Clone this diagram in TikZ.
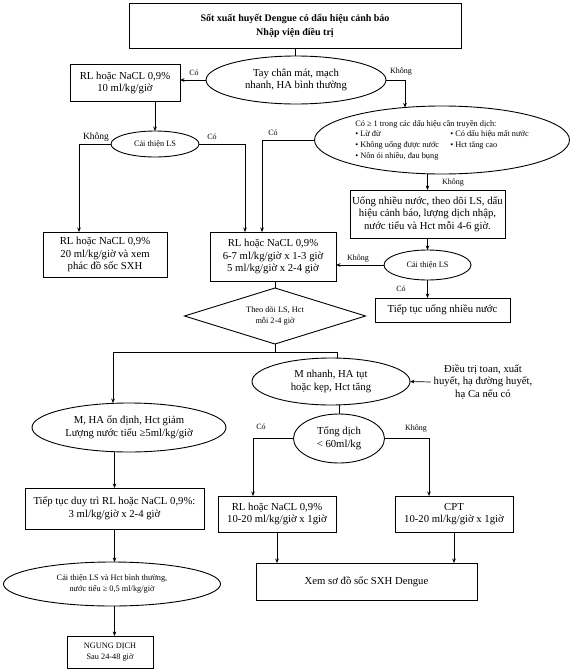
\documentclass[tikz,border=0pt]{standalone}
\usepackage{fontspec}
\setmainfont{Liberation Serif}
\usetikzlibrary{shapes.geometric,arrows.meta}
\begin{document}
\begin{tikzpicture}[x=1pt,y=-1pt,
  every node/.style={inner sep=0pt,outer sep=0pt,align=center},
  mtxt/.style={font=\fontsize{10.7}{12.7}\selectfont},
  stxt/.style={font=\fontsize{8.3}{10.6}\selectfont},
  btxt/.style={font=\bfseries\fontsize{10}{14}\selectfont},
  lbl/.style={font=\fontsize{8}{9}\selectfont},
  lblbig/.style={font=\fontsize{9.5}{11}\selectfont},
  bx/.style={draw,rectangle,line width=0.9pt},
  el/.style={draw,ellipse,line width=0.9pt},
  ln/.style={line width=0.7pt},
  arr/.style={ln,-{Stealth[length=4.5pt,width=3.6pt]}},
]
\useasboundingbox[fill=white] (0,0) rectangle (575,672);

% top row
\node[bx,btxt,minimum width=332,minimum height=45] (top) at (295,25.5) {Sốt xuất huyết Dengue có dấu hiệu cảnh báo\\Nhập viện điều trị};
\node[el,mtxt,minimum width=180,minimum height=48] (e1) at (296,80) {Tay chân mát, mạch\\nhanh, HA bình thường};
\node[bx,mtxt,minimum width=110,minimum height=37] (r10) at (125,83) {RL hoặc NaCL 0,9\%\\10 ml/kg/giờ};
\draw[ln] (top.south) -- (top.south |- e1.north);
\draw[arr] (e1.west) -- (e1.west -| r10.east);
\node[lbl] (lco1) at (194,73) {Có};

% big ellipse
\node[el,stxt,minimum width=255,minimum height=68] (e2) at (442,140) {%
\begin{tabular}{@{}l@{}l@{}}
\multicolumn{2}{@{}l@{}}{Có ≥ 1 trong các dấu hiệu cần truyền dịch:}\\
\makebox[95pt][l]{• Lừ đừ} & • Có dấu hiệu mất nước\\
\makebox[95pt][l]{• Không uống được nước} & • Hct tăng cao\\
\makebox[95pt][l]{• Nôn ói nhiều, đau bụng} & \\
\end{tabular}};
\coordinate (k1) at (405,80);
\draw[arr] (e1.east) -- (k1) -- ([yshift=-1.5pt]e2.north -| k1);
\node[lbl] (lkh1) at (401,72) {Không};

% left decision
\node[el,stxt,minimum width=88,minimum height=26] (c1) at (155,144) {Cải thiện LS};
\draw[arr] (r10.south -| c1.north) -- (c1.north);
\node[bx,mtxt,minimum width=124,minimum height=45] (lb) at (105,254.5) {RL hoặc NaCL 0,9\%\\20 ml/kg/giờ và xem\\phác đồ sốc SXH};
\node[bx,mtxt,minimum width=126,minimum height=49] (cb) at (273,256.5) {RL hoặc NaCL 0,9\%\\6-7 ml/kg/giờ x 1-3 giờ\\5 ml/kg/giờ x 2-4 giờ};
\coordinate (c1L) at (79,144);
\coordinate (c1R) at (245,144);
\draw[arr] (c1.west) -- (c1L) -- (c1L |- lb.north);
\draw[arr] (c1.east) -- (c1R) -- (c1R |- cb.north);
\node[lblbig] (lkh2) at (96,137) {Không};
\node[lbl] (lco2) at (212,137) {Có};
\coordinate (e2L) at (262,140);
\draw[arr] (e2.west) -- (e2L) -- (e2L |- cb.north);
\node[lbl] (lco3) at (273,133) {Có};

% right branch
\node[bx,mtxt,minimum width=155,minimum height=48] (ub) at (427.5,214) {Uống nhiều nước, theo dõi LS, dấu\\hiệu cảnh báo, lượng dịch nhập,\\nước tiểu và Hct mỗi 4-6 giờ.};
\draw[arr] (e2.south -| ub.north) -- (ub.north);
\node[lbl] (lkh3) at (453,183) {Không};
\node[el,stxt,minimum width=87,minimum height=30] (c2) at (427.5,265) {Cải thiện LS};
\draw[arr] (ub.south) -- (c2.north);
\draw[arr] (c2.west) -- (c2.west -| cb.east);
\node[lbl] (lkh4) at (358,259) {Không};
\node[bx,mtxt,minimum width=135,minimum height=24] (tt) at (442.5,310) {Tiếp tục uống nhiều nước};
\draw[arr] (c2.south) -- (c2.south |- tt.north);
\node[lbl] (lco4) at (401,289) {Có};

% diamond
\node[draw,diamond,aspect=3.2,stxt,line width=0.9pt,minimum width=181,minimum height=56] (dm) at (275,316) {Theo dõi LS, Hct\\mỗi 2-4 giờ};
\draw[ln] (cb.south -| dm.north) -- (dm.north);
\coordinate (j) at (275,352);
\coordinate (jl) at (113,352);
\coordinate (jr) at (337,352);
\draw[ln] (dm.south) -- (j);

% left lower chain
\node[el,mtxt,minimum width=194,minimum height=49] (m1) at (129,427.5) {M, HA ổn định, Hct giảm\\Lượng nước tiểu ≥5ml/kg/giờ};
\draw[arr] (j) -- (jl) -- (jl |- m1.north);
\node[bx,mtxt,minimum width=179,minimum height=41] (tb) at (114.5,508.5) {Tiếp tục duy trì RL hoặc NaCL 0,9\%:\\3 ml/kg/giờ x 2-4 giờ};
\draw[arr] (m1.south -| tb.north) -- (tb.north);
\node[el,stxt,minimum width=217,minimum height=44] (c3) at (112,584) {Cải thiện LS và Hct bình thường,\\nước tiểu ≥ 0,5 ml/kg/giờ};
\draw[arr] (tb.south) -- (tb.south |- c3.north);
\node[bx,stxt,minimum width=86,minimum height=32] (ng) at (110,652) {NGUNG DỊCH\\Sau 24-48 giờ};
\draw[arr] (tb.south |- c3.south) -- (tb.south |- ng.north);

% right lower chain
\node[el,mtxt,minimum width=158,minimum height=47] (m2) at (331,381.5) {M nhanh, HA tụt\\hoặc kẹp, Hct tăng};
\draw[ln] (j) -- (jr) -- (jr |- m2.north);
\node[mtxt] (dt) at (483,382) {Điều trị toan, xuất\\huyết, hạ đường huyết,\\hạ Ca nếu có};
\draw[arr] ([xshift=-3pt]dt.west) -- (m2.east);
\node[el,mtxt,minimum width=91,minimum height=49] (td) at (339,438.5) {Tổng dịch\\< 60ml/kg};
\draw[ln] (m2.south -| td.north) -- (td.north);
\node[bx,mtxt,minimum width=118,minimum height=36] (rb) at (277,514) {RL hoặc NaCL 0,9\%\\10-20 ml/kg/giờ x 1giờ};
\node[bx,mtxt,minimum width=118,minimum height=36] (cp) at (454,514) {CPT\\10-20 ml/kg/giờ x 1giờ};
\coordinate (tl) at (253,438.5);
\coordinate (tr) at (429,438.5);
\draw[arr] (td.west) -- (tl) -- (tl |- rb.north);
\draw[arr] (td.east) -- (tr) -- (tr |- cp.north);
\node[lbl] (lco5) at (261,427) {Có};
\node[lbl] (lkh5) at (416,429) {Không};
\node[bx,mtxt,minimum width=221,minimum height=37] (xm) at (366.5,581.5) {Xem sơ đồ sốc SXH Dengue};
\draw[arr] (rb.south) -- (rb.south |- xm.north);
\draw[arr] (cp.south) -- (cp.south |- xm.north);
\end{tikzpicture}
\end{document}
